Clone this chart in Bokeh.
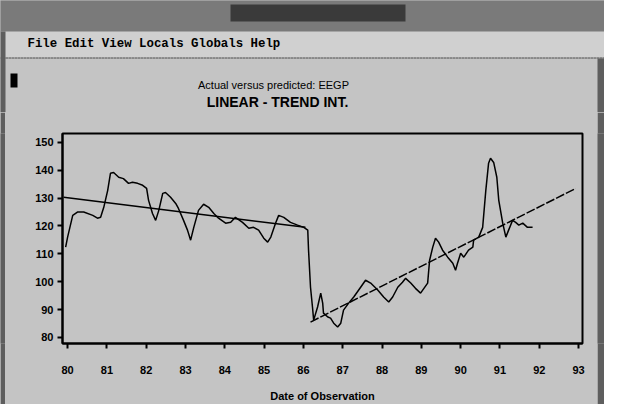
from bokeh.plotting import figure
from bokeh.models import FixedTicker, Range1d
from bokeh.layouts import column, row
from bokeh.core.properties import value
from bokeh.embed import file_html
from bokeh.resources import INLINE

# Actual series (decimal year, value)
actual_x = [79.95, 80.00, 80.13, 80.25, 80.41, 80.64, 80.76, 80.84, 80.92, 81.02, 81.09, 81.17,
            81.30, 81.42, 81.55, 81.65, 81.78, 81.91, 82.01, 82.06, 82.16, 82.24, 82.32, 82.42,
            82.49, 82.62, 82.75, 82.82, 82.95, 83.05, 83.13, 83.21, 83.33, 83.46, 83.59, 83.72,
            83.84, 84.02, 84.15, 84.27, 84.45, 84.61, 84.73, 84.86, 84.99, 85.09, 85.17, 85.29,
            85.37, 85.50, 85.67, 85.85, 86.01, 86.11, 86.13, 86.18, 86.23, 86.26, 86.36, 86.44,
            86.49, 86.51, 86.62, 86.69, 86.77, 86.87, 86.95, 87.02, 87.15, 87.28, 87.46, 87.58,
            87.71, 87.89, 88.04, 88.17, 88.27, 88.40, 88.52, 88.60, 88.73, 88.85, 88.98, 89.16,
            89.21, 89.29, 89.36, 89.44, 89.54, 89.67, 89.80, 89.87, 89.92, 90.00, 90.08, 90.20,
            90.31, 90.33, 90.46, 90.56, 90.64, 90.71, 90.76, 90.84, 90.92, 90.97, 91.07, 91.15,
            91.22, 91.32, 91.40, 91.48, 91.58, 91.70, 91.83]
actual_y = [112.4, 116.0, 123.8, 125.0, 125.0, 123.8, 122.8, 123.1, 126.7, 132.8, 138.9, 139.2,
            137.5, 137.0, 135.3, 135.7, 135.3, 134.6, 133.5, 129.2, 124.5, 122.0, 125.6, 131.7,
            132.0, 130.3, 128.1, 126.3, 122.0, 118.5, 114.9, 119.5, 125.6, 127.8, 126.7, 124.5,
            122.8, 121.0, 121.3, 123.1, 121.3, 119.2, 119.5, 118.5, 115.6, 114.2, 116.0, 121.0,
            123.8, 123.1, 121.3, 120.3, 119.5, 118.5, 111.3, 98.0, 90.9, 86.2, 90.9, 95.9,
            92.3, 88.7, 87.3, 86.9, 85.1, 83.7, 85.1, 89.8, 92.3, 94.5, 98.1, 100.5,
            99.5, 97.0, 94.5, 92.7, 94.5, 98.0, 99.8, 101.2, 99.5, 97.6, 95.9, 99.5,
            107.7, 112.4, 115.6, 114.2, 111.3, 108.8, 106.6, 104.1, 106.6, 110.2, 108.8, 111.3,
            112.4, 114.9, 116.0, 119.5, 132.8, 142.5, 144.3, 142.8, 137.5, 129.2, 121.0, 116.0,
            118.5, 122.0, 121.3, 120.3, 121.0, 119.5, 119.5]

# Predicted (linear trend with intervention)
trend1_x = [79.90, 86.05]
trend1_y = [130.3, 119.5]
trend2_x = [86.18, 92.93]
trend2_y = [85.5, 133.5]

y_ticks = [80, 90, 100, 110, 120, 130, 140, 150]
x_ticks = list(range(80, 94))

menu_text = "File Edit View Locals Globals Help"
subtitle = "Actual versus predicted: EEGP"
title_text = "LINEAR - TREND INT."
x_label = "Date of Observation"

BG = "#c4c4c4"
BAR = "#7a7a7a"
DARK = "#5e5e5e"
FONT = "Liberation Sans"
W, H = 604, 404
TOP_H = 112
SCROLL_W = 7
LEFT_W = 5

# ---- window chrome + titles (pixel space) ----
top = figure(width=W, height=TOP_H, x_range=Range1d(0, W), y_range=Range1d(TOP_H, 0),
             output_backend="svg", toolbar_location=None,
             x_axis_location=None, y_axis_location=None,
             min_border_left=0, min_border_right=0, min_border_top=0, min_border_bottom=0)
top.background_fill_color = BAR
top.border_fill_color = BAR
top.outline_line_color = None
top.grid.visible = False

# chart area below menu bar
top.quad(left=[0], right=[W], top=[58], bottom=[TOP_H], fill_color=BG, line_color=None)
# menu bar
top.quad(left=[0], right=[W], top=[31], bottom=[57], fill_color="#d0d0d0", line_color=None)
top.line(x=[0, W], y=[57.5, 57.5], line_color="#444444", line_width=1, line_dash="1 2")
# title text block in window bar
top.quad(left=[230], right=[405], top=[4], bottom=[21], fill_color="#3a3a3a", line_color=None)
# side borders
top.quad(left=[0], right=[LEFT_W], top=[31], bottom=[TOP_H], fill_color=DARK, line_color=None)
top.quad(left=[W - SCROLL_W], right=[W], top=[58], bottom=[TOP_H], fill_color=DARK, line_color=None)
# small marker on the left
top.quad(left=[10], right=[17], top=[73], bottom=[87], fill_color="black", line_color=None)

top.text(x=[27], y=[43], text=[menu_text], text_font=value("Liberation Mono"),
         text_font_style="bold", text_font_size="12.4px", text_align="left",
         text_baseline="middle", text_color="black")
top.text(x=[273], y=[84], text=[subtitle], text_font=value(FONT),
         text_font_size="11px", text_align="center", text_baseline="middle", text_color="black")
top.text(x=[277], y=[101], text=[title_text], text_font=value(FONT), text_font_style="bold",
         text_font_size="14px", text_align="center", text_baseline="middle", text_color="black")

# ---- main chart ----
MAIN_W = W - SCROLL_W - LEFT_W
MAIN_H = H - TOP_H
p = figure(width=MAIN_W, height=MAIN_H, x_range=(79.87, 93.1), y_range=(77.8, 153.2),
           output_backend="svg", toolbar_location=None,
           min_border_left=62 - LEFT_W, min_border_right=(W - SCROLL_W) - 582,
           min_border_top=133 - TOP_H, min_border_bottom=MAIN_H - (343 - TOP_H))
p.background_fill_color = BG
p.border_fill_color = BG
p.outline_line_color = "black"
p.outline_line_width = 2
p.grid.visible = False

p.xaxis.ticker = FixedTicker(ticks=x_ticks)
p.yaxis.ticker = FixedTicker(ticks=y_ticks)
for ax in (p.xaxis, p.yaxis):
    ax.axis_line_color = "black"
    ax.axis_line_width = 2
    ax.major_tick_line_color = "black"
    ax.major_tick_line_width = 2
    ax.major_tick_in = 0
    ax.major_tick_out = 5
    ax.minor_tick_line_color = None
    ax.major_label_text_font = FONT
    ax.major_label_text_font_style = "bold"
    ax.major_label_text_font_size = "11px"
    ax.major_label_text_color = "black"
p.xaxis.major_label_standoff = 17
p.yaxis.major_label_standoff = 4
p.xaxis.axis_label = x_label
p.xaxis.axis_label_text_font = FONT
p.xaxis.axis_label_text_font_style = "bold"
p.xaxis.axis_label_text_font_size = "11px"
p.xaxis.axis_label_text_color = "black"
p.xaxis.axis_label_standoff = 13

p.line(trend1_x, trend1_y, line_color="black", line_width=1.5)
p.line(trend2_x, trend2_y, line_color="black", line_width=1.5, line_dash="9 2")
p.line(actual_x, actual_y, line_color="black", line_width=1.5)

# ---- side strips (window border / scroll bar) ----
def strip(width, color):
    s = figure(width=width, height=MAIN_H, x_range=Range1d(0, width), y_range=Range1d(0, 1),
               output_backend="svg", toolbar_location=None,
               x_axis_location=None, y_axis_location=None,
               min_border_left=0, min_border_right=0, min_border_top=0, min_border_bottom=0)
    s.background_fill_color = color
    s.border_fill_color = color
    s.outline_line_color = None
    s.grid.visible = False
    return s

layout = column(top, row(strip(LEFT_W, DARK), p, strip(SCROLL_W, DARK),
                         styles={"background-color": BG}),
                styles={"background-color": BG})
open("out.html", "w").write(file_html(layout, INLINE))
